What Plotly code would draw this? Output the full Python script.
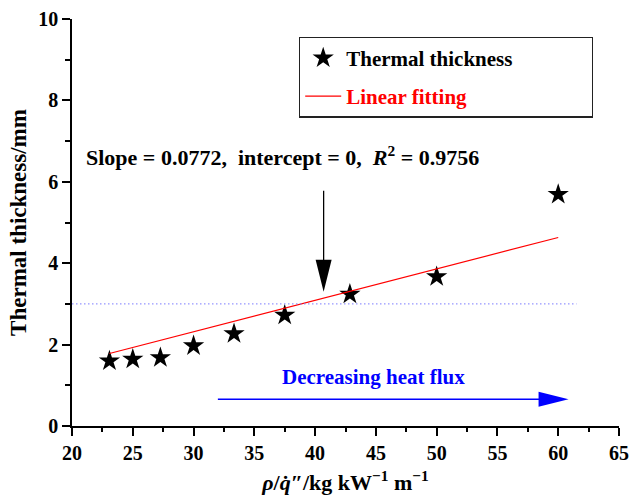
import plotly.graph_objects as go

# Thermal thickness versus rho / q'' (rho = 300 kg/m3, q'' = 13 ... 5 kW/m2)
rho_over_q = [23.08, 25.0, 27.27, 30.0, 33.33, 37.5, 42.86, 50.0, 60.0]
thickness = [1.60, 1.64, 1.68, 1.97, 2.27, 2.72, 3.24, 3.67, 5.69]

# Linear fit through the origin
slope = 0.0772
intercept = 0.0
r_squared = 0.9756
fit_x = [rho_over_q[0], rho_over_q[-1]]
fit_y = [slope * x + intercept for x in fit_x]

# Axis ticks
x_ticks = [20, 25, 30, 35, 40, 45, 50, 55, 60, 65]
y_ticks = [0, 2, 4, 6, 8, 10]

# Reference level and guide arrows
ref_level = 3.0
ref_x_end = 61.5
down_arrow_x = 40.7
down_arrow_top = 5.78
down_arrow_tip = 3.30
flux_arrow_y = 0.657
flux_arrow_start = 32.0
flux_arrow_tip = 60.85

SERIF = "Liberation Serif"
BLACK = "#000000"

fig = go.Figure()

fig.add_trace(go.Scatter(
    x=rho_over_q, y=thickness, mode="markers",
    name="Thermal thickness" + "&nbsp;" * 14,
    marker=dict(symbol="star", size=16, color=BLACK, line=dict(width=0)),
    legendgroup="a",
))
fig.add_trace(go.Scatter(
    x=fit_x, y=fit_y, mode="lines",
    name="<span style='color:#ff0000'>Linear fitting</span>",
    line=dict(color="#ff0000", width=1.2),
    legendgroup="b",
))
fig.add_trace(go.Scatter(
    x=[20, ref_x_end], y=[ref_level, ref_level], mode="lines",
    line=dict(color="#7a7aff", width=1, dash="1.5px,2.5px"),
    showlegend=False, hoverinfo="skip",
))

shapes = [
    # vertical arrow shaft and head
    dict(type="line", xref="x", yref="y",
         x0=down_arrow_x, x1=down_arrow_x, y0=down_arrow_top, y1=down_arrow_tip + 0.5,
         line=dict(color=BLACK, width=1.3)),
    dict(type="path", xref="x", yref="y", xsizemode="pixel", ysizemode="pixel",
         xanchor=down_arrow_x, yanchor=down_arrow_tip,
         path="M -8 32 L 8 32 L 0 0 Z",
         fillcolor=BLACK, line=dict(width=0)),
    # horizontal arrow shaft and head
    dict(type="line", xref="x", yref="y",
         x0=flux_arrow_start, x1=flux_arrow_tip - 1.5, y0=flux_arrow_y, y1=flux_arrow_y,
         line=dict(color="#0000ff", width=1.5)),
    dict(type="path", xref="x", yref="y", xsizemode="pixel", ysizemode="pixel",
         xanchor=flux_arrow_tip, yanchor=flux_arrow_y,
         path="M 0 0 L -30 7.5 L -30 -7.5 Z",
         fillcolor="#0000ff", line=dict(width=0)),
]

fit_label = (
    f"<b>Slope&nbsp;= {slope},&nbsp; intercept&nbsp;= {intercept:g},&nbsp; "
    f"<i>R</i><sup>2</sup>&nbsp;= {r_squared}</b>"
)

annotations = [
    dict(x=21.0, y=6.64, xref="x", yref="y", xanchor="left", yanchor="middle",
         showarrow=False, text=fit_label,
         font=dict(family=SERIF, size=22, color=BLACK)),
    dict(x=44.8, y=1.21, xref="x", yref="y", xanchor="center", yanchor="middle",
         showarrow=False, text="<b>Decreasing heat flux</b>",
         font=dict(family=SERIF, size=21, color="#0000ff")),
]

axis_common = dict(
    showgrid=False, zeroline=False, showline=True, linecolor=BLACK, linewidth=1.5,
    tickcolor=BLACK, tickwidth=1.5, automargin=False,
    tickfont=dict(family=SERIF, size=20, color=BLACK, weight="bold"),
)

fig.update_layout(
    width=630, height=504,
    margin=dict(l=72, r=11, t=19, b=78, autoexpand=False),
    paper_bgcolor="white", plot_bgcolor="white",
    showlegend=True,
    legend=dict(
        x=0.415, y=0.957, xanchor="left", yanchor="top",
        bordercolor="#222222", borderwidth=1.2, bgcolor="white",
        font=dict(family=SERIF, size=21, color=BLACK, weight="bold"),
        tracegroupgap=8, traceorder="grouped", itemwidth=36,
    ),
    xaxis=dict(
        range=[20, 65], tickmode="array", tickvals=x_ticks,
        ticktext=[f"<b>{v}</b>" for v in x_ticks],
        ticks="outside", ticklen=8,
        minor=dict(dtick=2.5, tick0=20, ticks="outside", ticklen=4, tickcolor=BLACK, tickwidth=1.5),
        title=dict(
            text="<b><i>ρ</i>/<i>q̇</i>″/kg kW<sup>−1</sup> m<sup>−1</sup></b>",
            font=dict(family=SERIF, size=22, color=BLACK), standoff=12),
        **axis_common,
    ),
    yaxis=dict(
        range=[0, 10], tickmode="array", tickvals=y_ticks,
        ticktext=[f"<b>{v}</b>" for v in y_ticks],
        ticks="outside", ticklen=8,
        minor=dict(dtick=1, tick0=0, ticks="outside", ticklen=5, tickcolor=BLACK, tickwidth=1.5),
        title=dict(text="<b>Thermal thickness/mm</b>",
                   font=dict(family=SERIF, size=23, color=BLACK), standoff=5),
        **axis_common,
    ),
    xaxis2=dict(
        overlaying="x", side="top", matches="x", range=[20, 65],
        tickmode="array", tickvals=x_ticks,
        ticks="inside", ticklen=7, showticklabels=False,
        minor=dict(dtick=2.5, tick0=20, ticks="inside", ticklen=4, tickcolor=BLACK, tickwidth=1.5),
        **axis_common,
    ),
    yaxis2=dict(
        overlaying="y", side="right", matches="y", range=[0, 10],
        tickmode="array", tickvals=y_ticks,
        ticks="inside", ticklen=7, showticklabels=False,
        minor=dict(dtick=1, tick0=0, ticks="inside", ticklen=4, tickcolor=BLACK, tickwidth=1.5),
        **axis_common,
    ),
    shapes=shapes,
    annotations=annotations,
)

fig.write_html("out.html")
